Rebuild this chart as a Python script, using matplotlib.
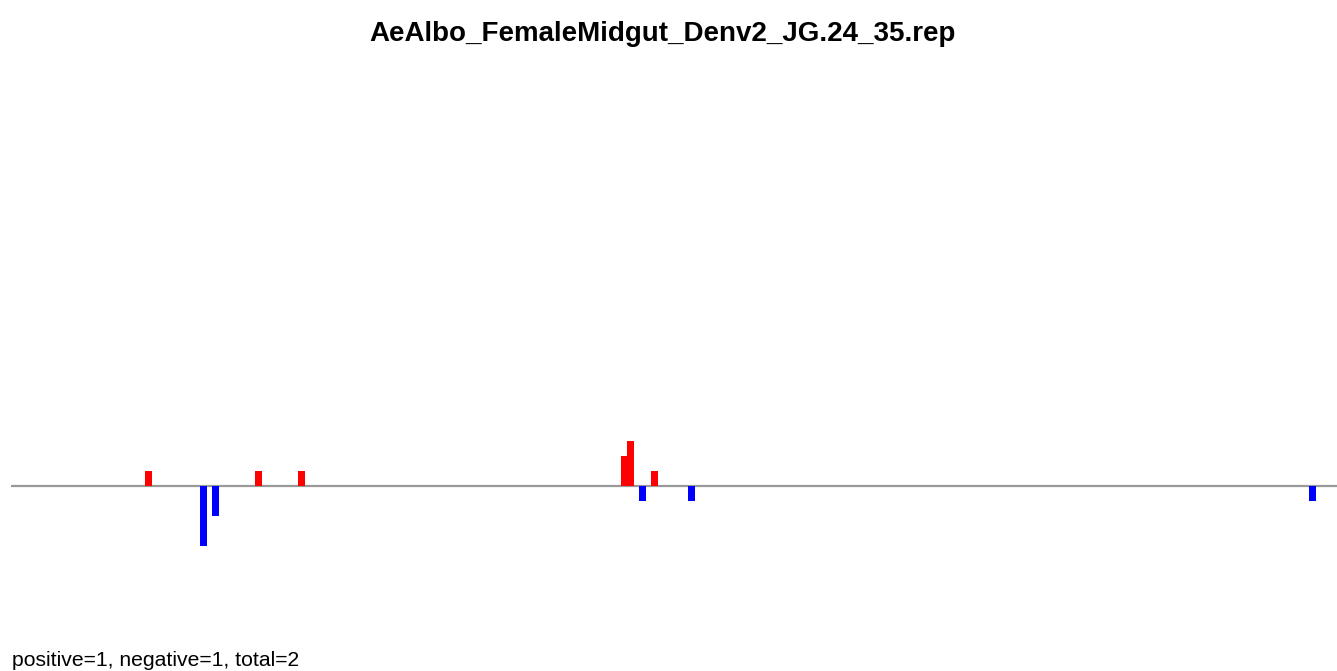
import numpy as np
import matplotlib
matplotlib.use('Agg')
import matplotlib.pyplot as plt

# --- Data ---
TITLE = "AeAlbo_FemaleMidgut_Denv2_JG.24_35.rep"
FOOTER = "positive=1, negative=1, total=2"

pos_x = [134, 244, 287, 610, 616, 640]
pos_counts = [1, 1, 1, 2, 3, 1]
neg_x = [189, 201, 628, 677, 1298]
neg_counts = [4, 2, 1, 1, 1]

X_MAX = 1326
BAR_W = 6.5

plt.rcParams['font.family'] = ['Liberation Sans', 'DejaVu Sans']

W, H = 1337, 671
fig = plt.figure(figsize=(W / 100, H / 100), dpi=100)

# axes spans pixel rows 100..620, baseline sits at row 486 (15 px per count)
ax_top, ax_bot = 100, 620
base = 486
unit = 15
ylo = -(ax_bot - base) / unit
yhi = (base - ax_top) / unit
ax = fig.add_axes([11 / W, 1 - ax_bot / H, (W - 11) / W, (ax_bot - ax_top) / H])

ax.bar(pos_x, pos_counts, width=BAR_W, align='edge', color='#ff0000', linewidth=0, zorder=2)
ax.bar(neg_x, [-c for c in neg_counts], width=BAR_W, align='edge', color='#0000ff', linewidth=0, zorder=2)
ax.axhline(0, color='#999999', lw=1.6, zorder=1)

ax.set_xlim(0, X_MAX)
ax.set_ylim(ylo, yhi)
ax.axis('off')

fig.text(663 / W, 1 - 34 / H, TITLE, ha='center', va='center', fontsize=20, fontweight='bold')
fig.text(12 / W, 1 - 661 / H, FOOTER, ha='left', va='center', fontsize=15.2)

fig.savefig('out.png', dpi=100)
plt.close(fig)
